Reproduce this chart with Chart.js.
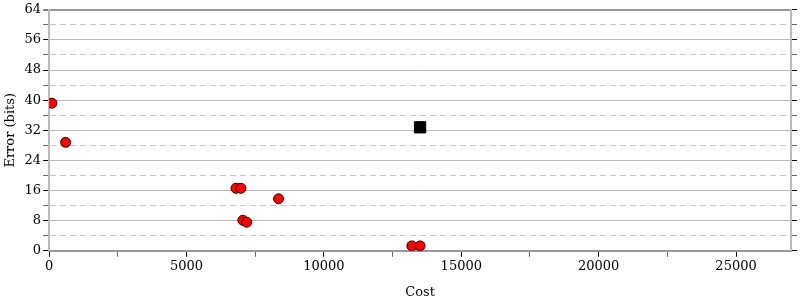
<!DOCTYPE html>
<html>
<head>
<meta charset="utf-8">
<script src="https://cdn.jsdelivr.net/npm/chart.js@4"></script>
<style>
    html, body { margin: 0; padding: 0; background: #fff; }
    #wrap { width: 800px; height: 300px; }
</style>
</head>
<body>
<div id="wrap"><canvas id="myChart"></canvas></div>
<script>
// Data

const costs = [100, 600, 6800, 6980, 7050, 7190, 8350, 13200, 13500];
const errors = [39.2, 28.8, 16.6, 16.6, 8.1, 7.6, 13.8, 1.3, 1.3];

const bestCost = [13500];
const bestError = [32.8];

const xTicks = [0, 5000, 10000, 15000, 20000, 25000];
const xMinorTicks = [2500, 7500, 12500, 17500, 22500];
const yTicks = [0, 8, 16, 24, 32, 40, 48, 56, 64];

const pairs = (xs, ys) => xs.map((x, i) => ({ x: x, y: ys[i] }));

// Setup

const data = {
    datasets: [
        {
            label: "Candidates",
            data: pairs(costs, errors),
            backgroundColor: "#ff0000",
            borderColor: "#330000",
            borderWidth: 1,
            pointRadius: 5,
            pointHoverRadius: 5
        },
        {
            label: "Best",
            data: pairs(bestCost, bestError),
            pointStyle: "rect",
            backgroundColor: "#000000",
            borderColor: "#000000",
            borderWidth: 1,
            pointRadius: 8,
            pointHoverRadius: 8
        }
    ]
};

const font = { family: "'DejaVu Serif', serif", size: 13 };

const isMajorY = (ctx) => ctx.tick && yTicks.includes(ctx.tick.value);
const isMajorX = (ctx) => ctx.tick && xTicks.includes(ctx.tick.value);

// Config

const config = {
    type: "scatter",
    data,
    options: {
        responsive: true,
        maintainAspectRatio: false,
        animation: false,
        layout: { padding: { top: 8, right: 1, left: 3, bottom: 0 } },
        plugins: {
            legend: { display: false },
            tooltip: { enabled: false }
        },
        scales: {
            x: {
                type: "linear",
                min: 0,
                max: 27000,
                // linear scale would stretch the step to fit 27000, so set ticks ourselves
                afterBuildTicks: (scale) => {
                    scale.ticks = xTicks.concat(xMinorTicks)
                        .sort((a, b) => a - b)
                        .map((v) => ({ value: v }));
                },
                ticks: {
                    color: "#000",
                    font,
                    maxRotation: 0,
                    autoSkip: false,
                    padding: 2,
                    callback: (v) => xTicks.includes(v) ? String(v) : ""
                },
                grid: {
                    drawOnChartArea: false,
                    tickLength: 6,
                    tickColor: (ctx) => isMajorX(ctx) ? "#000" : "#666",
                    tickWidth: 1
                },
                border: { color: "#999", width: 2 },
                title: {
                    display: true,
                    text: "Cost",
                    color: "#000",
                    font,
                    padding: { top: 8, bottom: 0 }
                }
            },
            y: {
                type: "linear",
                min: 0,
                max: 64,
                ticks: {
                    stepSize: 4,
                    color: "#000",
                    font,
                    autoSkip: false,
                    padding: 2,
                    callback: (v) => yTicks.includes(v) ? String(v) : ""
                },
                grid: {
                    color: (ctx) => {
                        if (!ctx.tick) return "#bbb";
                        if (ctx.tick.value === 64) return "#999";
                        return isMajorY(ctx) ? "#bbb" : "#c8c8c8";
                    },
                    lineWidth: (ctx) => ctx.tick && ctx.tick.value === 64 ? 2 : 1,
                    tickLength: 6,
                    tickColor: (ctx) => isMajorY(ctx) ? "#000" : "#666",
                    tickWidth: 1
                },
                border: {
                    color: "#bbb",
                    width: 2,
                    dash: (ctx) => ctx.tick && !yTicks.includes(ctx.tick.value) ? [6, 4] : []
                },
                title: {
                    display: true,
                    text: "Error (bits)",
                    color: "#000",
                    font,
                    padding: { top: 0, bottom: 4 }
                }
            },
            y2: {
                type: "linear",
                position: "right",
                min: 0,
                max: 64,
                ticks: {
                    stepSize: 4,
                    display: false
                },
                grid: {
                    drawOnChartArea: false,
                    tickLength: 6,
                    tickColor: (ctx) => isMajorY(ctx) ? "#000" : "#666",
                    tickWidth: 1
                },
                border: { color: "#bbb", width: 2 }
            }
        }
    }
};

// Render init block

const myChart = new Chart(document.getElementById("myChart"), config);
</script>
</body>
</html>
